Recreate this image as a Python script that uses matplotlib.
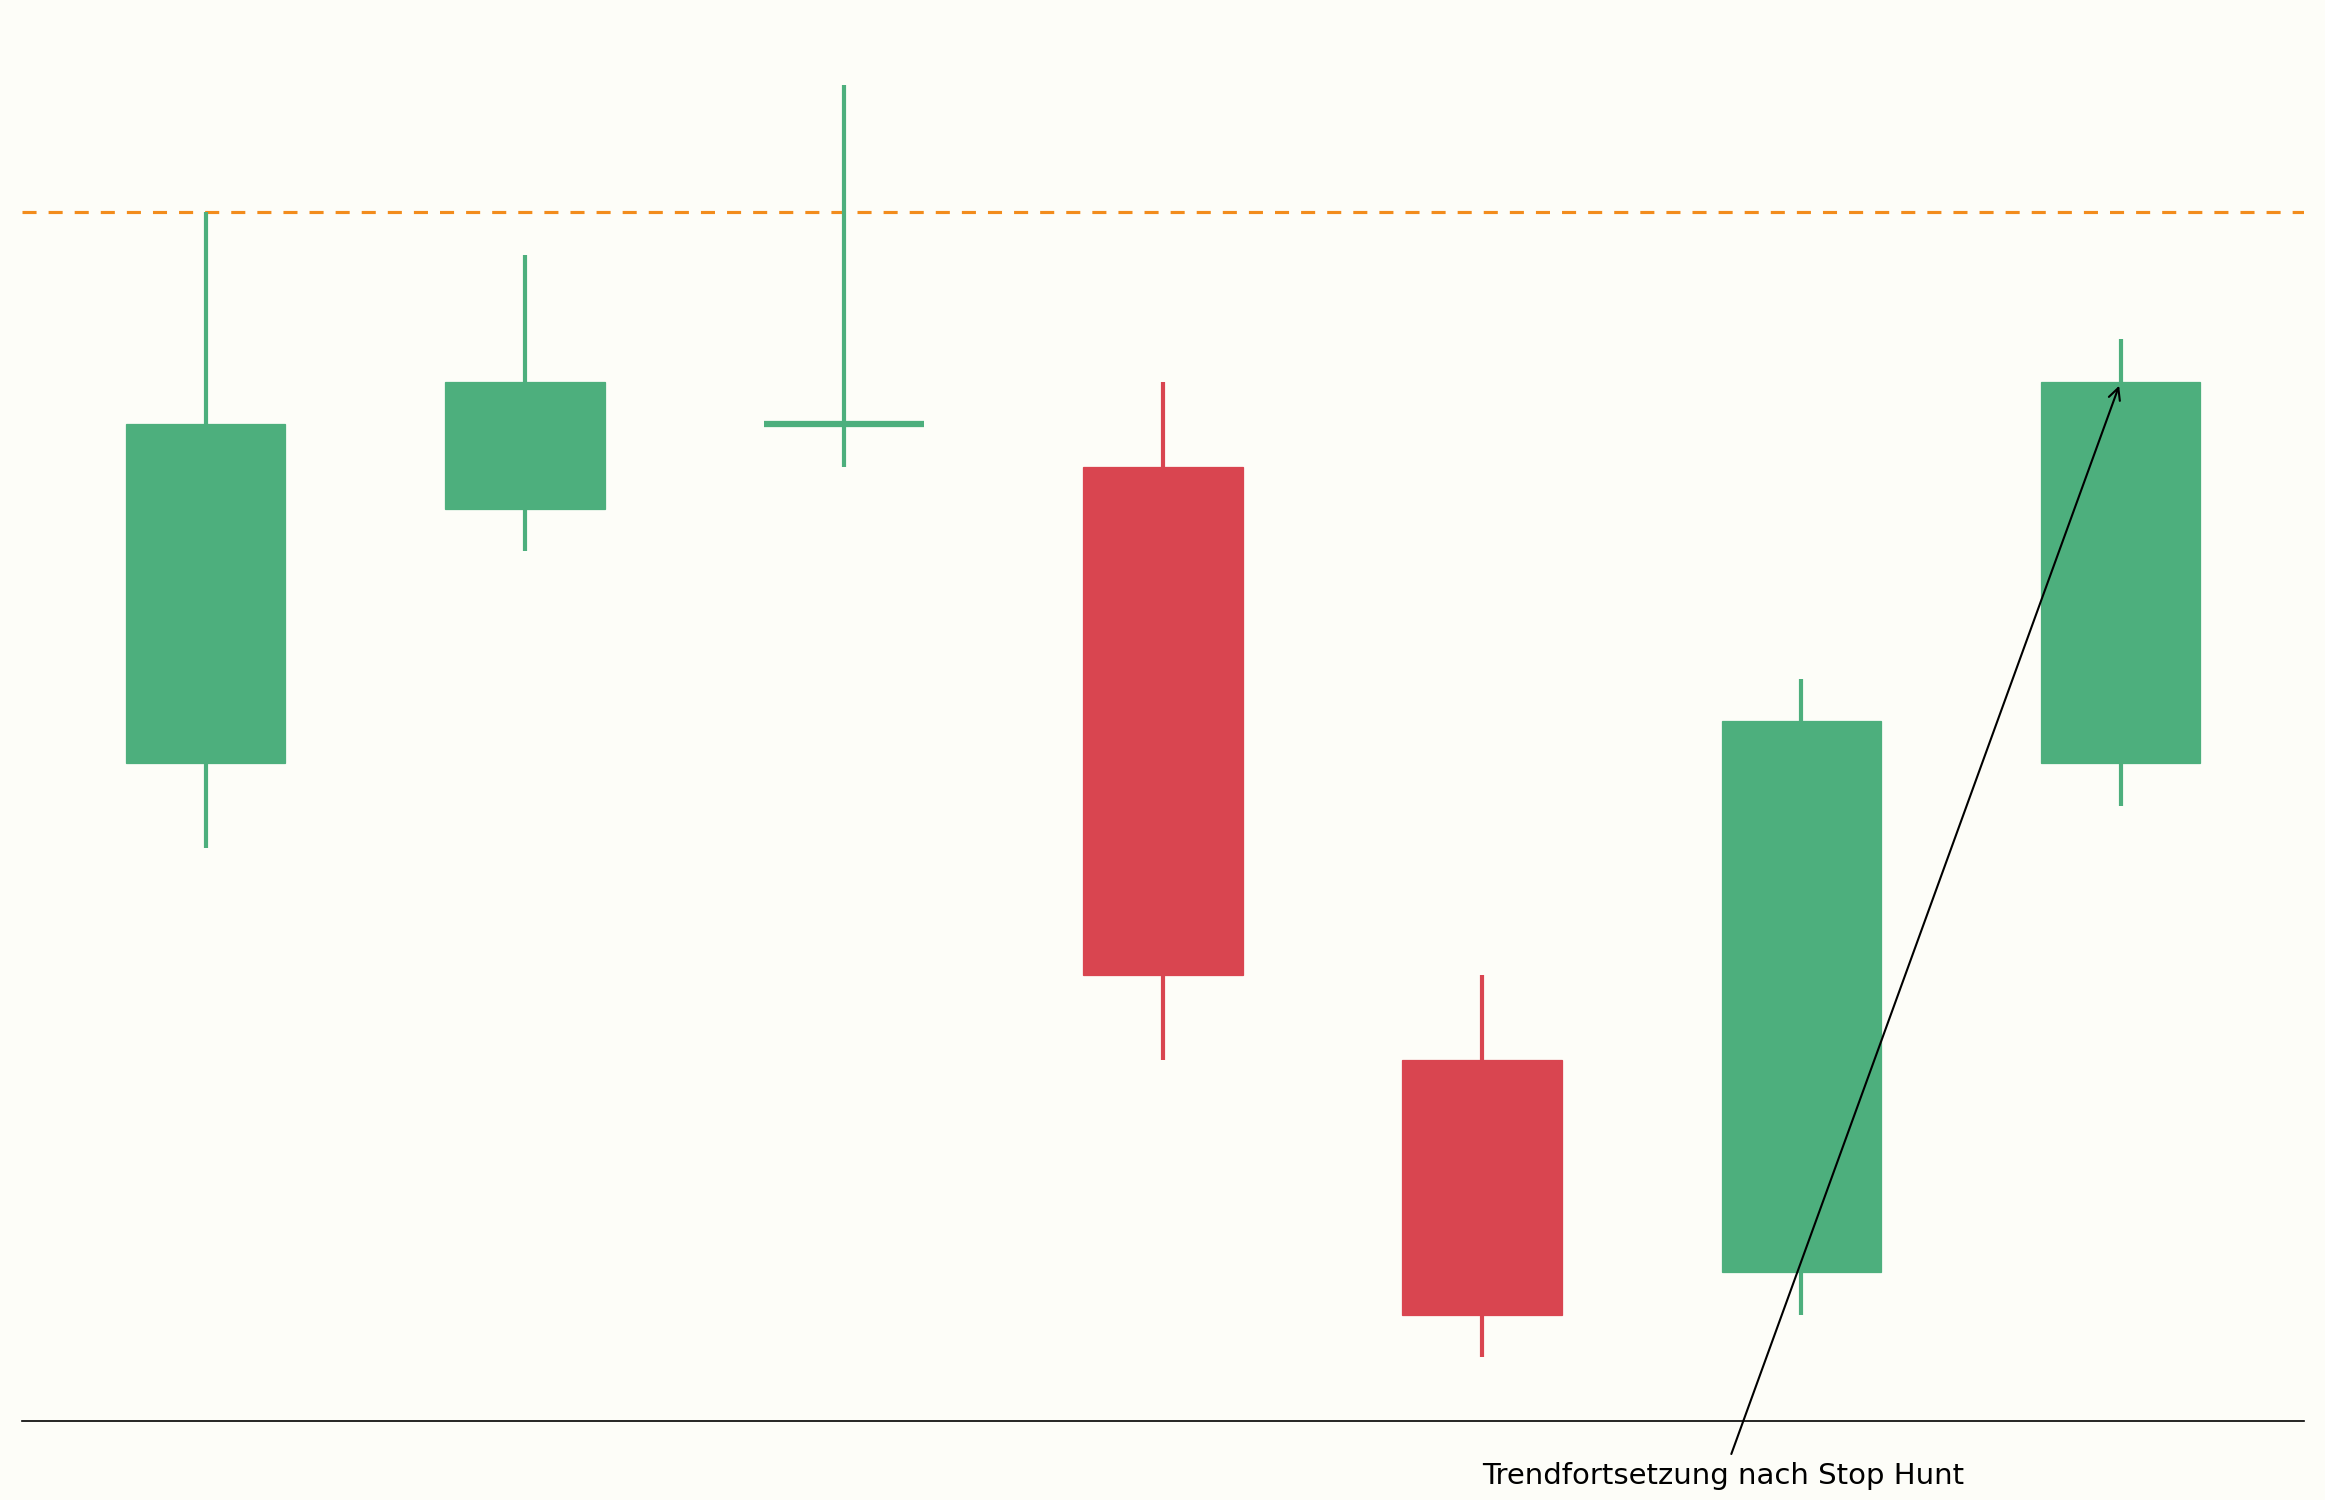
import matplotlib
matplotlib.use("Agg")
import matplotlib.pyplot as plt

# candle data (OHLC)
opens = [114, 120, 122, 121, 107, 102, 114]
highs = [127, 126, 130, 123, 109, 116, 124]
lows = [112, 119, 121, 107, 100, 101, 113]
closes = [122, 123, 122, 109, 101, 115, 123]
level = 127
label = "Trendfortsetzung nach Stop Hunt"
label_xy = (6, 123)
label_text_xy = (4, 97)

green = "#4DAF7D"
red = "#D94550"
bg = "#FDFDF8"

fig = plt.figure(figsize=(15.5, 10), dpi=150, facecolor=bg)
ax = fig.add_axes([0.0095, 0.053, 0.9815, 0.9327], facecolor=bg)

for i in range(len(opens)):
    o, h, l, c = opens[i], highs[i], lows[i], closes[i]
    col = green if c >= o else red
    ax.vlines(i, l, h, color=col, lw=2, zorder=2)
    if o == c:
        # doji: no body, just a flat line
        ax.hlines(o, i - 0.25, i + 0.25, color=col, lw=3, zorder=3)
    else:
        ax.bar(i, abs(c - o), bottom=min(o, c), width=0.5, color=col,
               edgecolor=col, linewidth=0.6, zorder=3)

ax.axhline(level, color="#F28C1C", lw=1.5, linestyle=(0, (4.5, 3.85)), zorder=1)

ax.annotate(label, xy=label_xy, xytext=label_text_xy, fontsize=14,
            arrowprops=dict(arrowstyle="->", color="black", lw=1))

for s in ["top", "left", "right"]:
    ax.spines[s].set_visible(False)
ax.set_xticks([])
ax.set_yticks([])

fig.savefig("out.png", dpi=150, facecolor=bg)
